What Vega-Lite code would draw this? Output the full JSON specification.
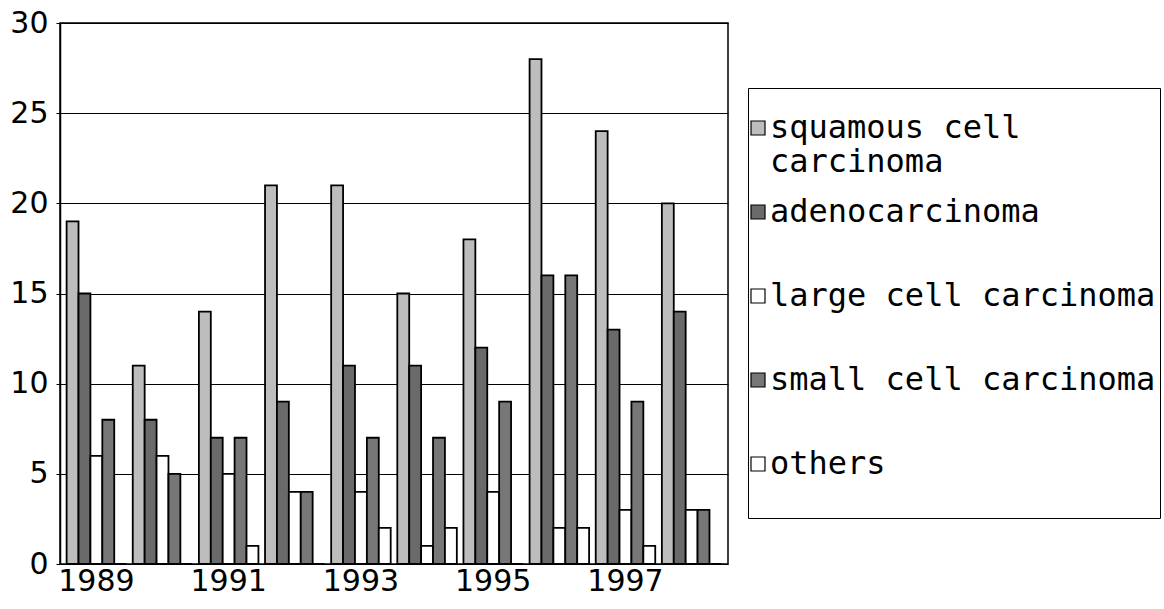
{
  "$schema": "https://vega.github.io/schema/vega-lite/v6.json",
  "autosize": {"type": "none"},
  "width": 668,
  "height": 541,
  "padding": {"left": 60, "top": 23, "right": 436, "bottom": 45},
  "background": "white",
  "config": {
    "font": "DejaVu Sans",
    "view": {"stroke": "black", "strokeWidth": 1.5}
  },
  "data": {
    "values": [
      {"year": "1989", "type": "squamous cell carcinoma", "count": 19},
      {"year": "1989", "type": "adenocarcinoma", "count": 15},
      {"year": "1989", "type": "large cell carcinoma", "count": 6},
      {"year": "1989", "type": "small cell carcinoma", "count": 8},
      {"year": "1989", "type": "others", "count": 0},
      {"year": "1990", "type": "squamous cell carcinoma", "count": 11},
      {"year": "1990", "type": "adenocarcinoma", "count": 8},
      {"year": "1990", "type": "large cell carcinoma", "count": 6},
      {"year": "1990", "type": "small cell carcinoma", "count": 5},
      {"year": "1990", "type": "others", "count": 0},
      {"year": "1991", "type": "squamous cell carcinoma", "count": 14},
      {"year": "1991", "type": "adenocarcinoma", "count": 7},
      {"year": "1991", "type": "large cell carcinoma", "count": 5},
      {"year": "1991", "type": "small cell carcinoma", "count": 7},
      {"year": "1991", "type": "others", "count": 1},
      {"year": "1992", "type": "squamous cell carcinoma", "count": 21},
      {"year": "1992", "type": "adenocarcinoma", "count": 9},
      {"year": "1992", "type": "large cell carcinoma", "count": 4},
      {"year": "1992", "type": "small cell carcinoma", "count": 4},
      {"year": "1992", "type": "others", "count": 0},
      {"year": "1993", "type": "squamous cell carcinoma", "count": 21},
      {"year": "1993", "type": "adenocarcinoma", "count": 11},
      {"year": "1993", "type": "large cell carcinoma", "count": 4},
      {"year": "1993", "type": "small cell carcinoma", "count": 7},
      {"year": "1993", "type": "others", "count": 2},
      {"year": "1994", "type": "squamous cell carcinoma", "count": 15},
      {"year": "1994", "type": "adenocarcinoma", "count": 11},
      {"year": "1994", "type": "large cell carcinoma", "count": 1},
      {"year": "1994", "type": "small cell carcinoma", "count": 7},
      {"year": "1994", "type": "others", "count": 2},
      {"year": "1995", "type": "squamous cell carcinoma", "count": 18},
      {"year": "1995", "type": "adenocarcinoma", "count": 12},
      {"year": "1995", "type": "large cell carcinoma", "count": 4},
      {"year": "1995", "type": "small cell carcinoma", "count": 9},
      {"year": "1995", "type": "others", "count": 0},
      {"year": "1996", "type": "squamous cell carcinoma", "count": 28},
      {"year": "1996", "type": "adenocarcinoma", "count": 16},
      {"year": "1996", "type": "large cell carcinoma", "count": 2},
      {"year": "1996", "type": "small cell carcinoma", "count": 16},
      {"year": "1996", "type": "others", "count": 2},
      {"year": "1997", "type": "squamous cell carcinoma", "count": 24},
      {"year": "1997", "type": "adenocarcinoma", "count": 13},
      {"year": "1997", "type": "large cell carcinoma", "count": 3},
      {"year": "1997", "type": "small cell carcinoma", "count": 9},
      {"year": "1997", "type": "others", "count": 1},
      {"year": "1998", "type": "squamous cell carcinoma", "count": 20},
      {"year": "1998", "type": "adenocarcinoma", "count": 14},
      {"year": "1998", "type": "large cell carcinoma", "count": 3},
      {"year": "1998", "type": "small cell carcinoma", "count": 3},
      {"year": "1998", "type": "others", "count": 0}
    ]
  },
  "mark": {"type": "bar", "stroke": "black", "strokeWidth": 1.8},
  "encoding": {
    "x": {
      "field": "year",
      "type": "ordinal",
      "scale": {"paddingInner": 0.1, "paddingOuter": 0.1},
      "axis": {
        "title": null,
        "values": ["1989", "1991", "1993", "1995", "1997"],
        "labelAngle": 0,
        "labelFontSize": 30,
        "labelColor": "black",
        "labelPadding": 2,
        "ticks": false,
        "domain": false,
        "labelFont": "DejaVu Sans"
      }
    },
    "xOffset": {
      "field": "type",
      "type": "nominal",
      "sort": ["squamous cell carcinoma", "adenocarcinoma", "large cell carcinoma", "small cell carcinoma", "others"],
      "scale": {"paddingInner": 0, "paddingOuter": 0}
    },
    "y": {
      "field": "count",
      "type": "quantitative",
      "scale": {"domain": [0, 30], "nice": false},
      "axis": {
        "title": null,
        "values": [0, 5, 10, 15, 20, 25, 30],
        "grid": true,
        "gridColor": "black",
        "gridOpacity": 1,
        "gridWidth": 1.2,
        "domainColor": "black",
        "domainWidth": 1.5,
        "tickColor": "black",
        "tickSize": 4,
        "labelFontSize": 30,
        "labelColor": "black",
        "labelPadding": 8,
        "labelFont": "DejaVu Sans"
      }
    },
    "fill": {
      "field": "type",
      "type": "nominal",
      "sort": ["squamous cell carcinoma", "adenocarcinoma", "large cell carcinoma", "small cell carcinoma", "others"],
      "scale": {
        "domain": ["squamous cell carcinoma", "adenocarcinoma", "large cell carcinoma", "small cell carcinoma", "others"],
        "range": ["#bdbdbd", "#6a6a6a", "#ffffff", "#777777", "#ffffff"]
      },
      "legend": {
        "title": " ",
        "titleFontSize": 10,
        "titlePadding": 10,
        "orient": "none",
        "legendX": 688,
        "legendY": 65,
        "direction": "vertical",
        "gridAlign": "all",
        "strokeColor": "black",
        "fillColor": "white",
        "padding": 4,
        "symbolType": "square",
        "symbolSize": 196,
        "symbolOffset": -10,
        "symbolStrokeColor": "black",
        "symbolStrokeWidth": 1.2,
        "labelFontSize": 32,
        "labelColor": "black",
        "labelFont": "DejaVu Sans Mono",
        "labelLimit": 700,
        "labelOffset": -4,
        "rowPadding": 18,
        "labelExpr": "datum.label == 'squamous cell carcinoma' ? ['squamous cell', 'carcinoma'] : datum.label == 'others' ? ['others', ' '] : datum.label + '     '"
      }
    }
  }
}
